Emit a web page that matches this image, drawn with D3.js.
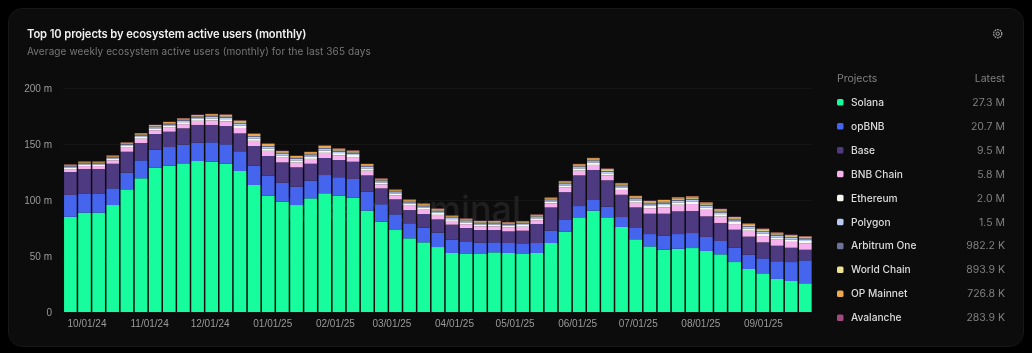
<!DOCTYPE html>
<html>
<head>
<meta charset="utf-8">
<script src="https://cdn.jsdelivr.net/npm/d3@7"></script>
<style>
    html, body { margin: 0; padding: 0; background: #000; }
    svg { display: block; font-family: Inter, "Noto Sans", sans-serif; filter: blur(0.3px); }
    .tick_label { font-size: 10px; fill: #9a9a9a; }
    .legend_name { font-size: 10.2px; fill: #dcdcdc; font-weight: 500; }
    .legend_value { font-size: 10.5px; fill: #808080; text-anchor: end; }
</style>
</head>
<body>
<svg id="chart" width="1032" height="353"></svg>
<script>
const projects = ["Solana", "opBNB", "Base", "BNB Chain", "Ethereum", "Polygon", "Arbitrum One", "World Chain", "OP Mainnet", "Avalanche"];
const latest = ["27.3 M", "20.7 M", "9.5 M", "5.8 M", "2.0 M", "1.5 M", "982.2 K", "893.9 K", "726.8 K", "283.9 K"];
const colors = ["#17fd9e", "#4565ee", "#4d3a80", "#f6b2ee", "#f8f6f0", "#b9c9f6", "#6c7298", "#ece28f", "#eea84f", "#a04a80"];

const monthTicks = ["2024-10-01", "2024-11-01", "2024-12-01", "2025-01-01", "2025-02-01", "2025-03-01", "2025-04-01", "2025-05-01", "2025-06-01", "2025-07-01", "2025-08-01", "2025-09-01"];
const yTicks = [0, 50, 100, 150, 200];

// values in millions, one per week
const solana = [85, 88.7, 88.7, 95.5, 109.5, 119.4, 128.9, 130.6, 132.7, 134.8, 134.2, 132.4, 125.9, 113.4, 103.8, 98.5, 95.5, 101.5, 106, 103.8, 102, 90.5, 80.6, 73.2, 65.8, 62.2, 58, 52.7, 51.8, 51.8, 53.3, 52.7, 51.8, 52.7, 61.6, 71.7, 84.5, 90.5, 84.5, 75.9, 64.9, 58.6, 55.6, 56.5, 57.1, 54.5, 51.5, 44.6, 38.4, 34.5, 29.5, 27.7, 25.6];
const opbnb = [19.5, 16.7, 16.7, 14.9, 14.9, 16, 16.1, 16.7, 16.7, 16.4, 17.3, 17.3, 17.6, 17.2, 17.9, 16.9, 16.4, 15.7, 16.3, 16.5, 16.8, 16.9, 15.6, 14, 13.4, 13.1, 12.8, 11.9, 10.7, 10.1, 8.9, 8.9, 9.5, 8.9, 11, 11, 10.1, 10.1, 9.5, 8.9, 10.1, 11, 12.5, 13.1, 13.4, 12.5, 11.9, 12.8, 12.8, 13.4, 15.8, 16.9, 20.5];
const base = [20.5, 22.3, 22.3, 22, 18.7, 15.5, 13.9, 13.7, 14.6, 15.8, 15.5, 16.3, 16, 17.6, 17.6, 18.2, 17.3, 15.2, 15.2, 15.4, 15.4, 14.6, 14.2, 13.4, 11.8, 12.2, 11.9, 13.4, 12.5, 11.3, 11, 10.4, 11.3, 17, 20.8, 24.3, 27.4, 26.2, 23.6, 19.9, 18.4, 18.2, 19.7, 20.3, 19.7, 18.4, 16.1, 16.1, 16.1, 14.3, 13.9, 12.8, 9.5];
const bnbChain = [2.6, 2.6, 2.6, 3, 3.6, 3.8, 3.4, 3.6, 3.7, 3.7, 4, 4.2, 4.8, 4.6, 4.6, 4.2, 4.2, 4.3, 4.6, 4.2, 4.1, 4.2, 3.6, 3.6, 3.9, 3.8, 4, 3.3, 3.4, 3.3, 3.3, 3.4, 3.5, 3.4, 3.6, 4.1, 4.2, 4.5, 4.3, 4.3, 4.2, 4.9, 5.6, 5.8, 6.2, 5.8, 5.7, 5, 5.2, 5.6, 5.4, 5.2, 5.8];
const ethereum = [1.4, 1.4, 1.4, 1.5, 1.6, 1.7, 1.6, 1.7, 1.8, 1.8, 1.9, 2, 2.2, 2.1, 2.1, 2, 2, 2, 2.1, 2, 1.9, 2, 1.7, 1.7, 1.8, 1.8, 1.9, 1.6, 1.6, 1.6, 1.6, 1.6, 1.7, 1.6, 1.7, 1.9, 2, 2.1, 2, 2, 2, 2.1, 2.1, 2.2, 2.3, 2.2, 2.2, 2, 2.1, 2.1, 2, 2, 2];
const polygon = [0.9, 0.9, 0.9, 1, 1, 1.1, 1.1, 1.1, 1.2, 1.2, 1.3, 1.3, 1.4, 1.4, 1.4, 1.3, 1.3, 1.3, 1.4, 1.3, 1.3, 1.3, 1.1, 1.1, 1.2, 1.2, 1.2, 1, 1.1, 1, 1, 1, 1.1, 1.1, 1.1, 1.2, 1.2, 1.3, 1.3, 1.3, 1.2, 1.4, 1.4, 1.4, 1.5, 1.5, 1.5, 1.4, 1.4, 1.5, 1.5, 1.5, 1.5];
const arbitrum = [0.6, 0.6, 0.6, 0.6, 0.7, 0.7, 0.7, 0.8, 0.8, 0.8, 0.9, 0.9, 1, 1, 1, 0.9, 0.9, 0.9, 1, 0.9, 0.9, 0.9, 0.8, 0.8, 0.8, 0.8, 0.8, 0.7, 0.7, 0.7, 0.7, 0.7, 0.7, 0.7, 0.7, 0.8, 0.8, 0.8, 0.8, 0.8, 0.8, 0.9, 0.9, 0.9, 0.9, 0.9, 0.9, 0.9, 0.9, 1, 1, 1, 1];
const worldChain = [0.2, 0.2, 0.2, 0.2, 0.2, 0.3, 0.3, 0.3, 0.3, 0.3, 0.4, 0.5, 0.7, 0.7, 0.7, 0.6, 0.6, 0.7, 0.7, 0.7, 0.6, 0.6, 0.6, 0.5, 0.6, 0.6, 0.6, 0.5, 0.6, 0.5, 0.5, 0.5, 0.5, 0.5, 0.6, 0.7, 0.7, 0.8, 0.8, 0.8, 0.8, 0.9, 1, 1, 1, 1, 1, 0.9, 0.9, 0.9, 0.9, 0.9, 0.9];
const opMainnet = [0.9, 0.9, 0.9, 1, 1.1, 1.1, 1, 1.1, 1.1, 1.1, 1.2, 1.3, 1.3, 1.2, 1.2, 1.1, 1.1, 1.2, 1.2, 1.1, 1.1, 1.1, 0.9, 0.9, 1, 1, 1, 0.9, 0.9, 0.9, 0.9, 0.9, 0.9, 1, 1, 1.1, 1.1, 1.1, 1.1, 1.1, 1.1, 1.1, 1.2, 1.2, 1.2, 1.1, 1.1, 1.1, 1.1, 1, 0.9, 0.8, 0.7];
const avalanche = [0.2, 0.2, 0.2, 0.2, 0.2, 0.2, 0.2, 0.3, 0.3, 0.3, 0.3, 0.3, 0.3, 0.3, 0.3, 0.3, 0.3, 0.3, 0.3, 0.3, 0.3, 0.3, 0.3, 0.3, 0.3, 0.3, 0.3, 0.3, 0.3, 0.3, 0.3, 0.3, 0.3, 0.3, 0.3, 0.3, 0.3, 0.3, 0.3, 0.3, 0.3, 0.3, 0.3, 0.3, 0.3, 0.3, 0.3, 0.3, 0.3, 0.3, 0.3, 0.3, 0.3];

const series_values = [solana, opbnb, base, bnbChain, ethereum, polygon, arbitrum, worldChain, opMainnet, avalanche];

const svg = d3.select("svg#chart");

// card
svg.append("rect")
    .attr("x", 8.5).attr("y", 8.5)
    .attr("width", 1015).attr("height", 338)
    .attr("rx", 14)
    .attr("fill", "#0c0c0c")
    .attr("stroke", "#181818");

svg.append("text")
    .attr("x", 27).attr("y", 38)
    .attr("fill", "#f0f0f0")
    .attr("font-size", 11.2)
    .attr("font-weight", 600)
    .attr("letter-spacing", -0.1)
    .text("Top 10 projects by ecosystem active users (monthly)");

svg.append("text")
    .attr("x", 27).attr("y", 55)
    .attr("fill", "#777")
    .attr("font-size", 10)
    .attr("letter-spacing", 0.1)
    .text("Average weekly ecosystem active users (monthly) for the last 365 days");

// gear icon
var gear = svg.append("g").attr("transform", "translate(997.7,33.7)").attr("fill", "none").attr("stroke", "#a8a8a8");
gear.append("circle").attr("r", 4.1).attr("stroke-width", 1.2).attr("stroke-dasharray", "1.8 0.8");
gear.append("circle").attr("r", 1.7).attr("stroke-width", 1);

// weeks run from monday to monday
const weeks = d3.utcMonday.range(new Date(Date.UTC(2024, 8, 23)), new Date(Date.UTC(2025, 8, 23)));
const halfWeek = 3.5 * 24 * 3600 * 1000;

const xscale = d3.scaleUtc()
    .domain([+weeks[0] - halfWeek, +weeks[weeks.length - 1] + halfWeek])
    .range([63.3, 812.4]);

const hscale = d3.scaleLinear()
    .domain([0, 200])
    .range([312, 88]);

const bar_width = (xscale.range()[1] - xscale.range()[0]) / weeks.length - 1.5;

// y axis with faint grid lines
var yaxis = d3.axisLeft(hscale)
    .tickValues(yTicks)
    .tickFormat(d => d == 0 ? "0" : d + " m")
    .tickSize(-749)
    .tickPadding(11);

var yaxis_g = svg.append("g")
    .attr("transform", "translate(63,0)")
    .call(yaxis);
yaxis_g.select(".domain").remove();
yaxis_g.selectAll("line").attr("stroke", "#151515");
yaxis_g.selectAll("text").attr("class", "tick_label").attr("font-family", null).attr("font-size", null);

// watermark sits behind the bars
svg.append("text")
    .attr("x", 538).attr("y", 222)
    .attr("text-anchor", "end")
    .attr("fill", "#202020")
    .attr("font-size", 36)
    .attr("font-weight", 500)
    .text("tokenterminal_");

// stacked bars
var table = weeks.map((week, i) => {
    var row = { week: week };
    projects.forEach((p, j) => row[p] = series_values[j][i]);
    return row;
});
var stacked = d3.stack().keys(projects)(table);

var bars = svg.append("g").attr("class", "bars");
stacked.forEach((layer, j) => {
    bars.append("g")
        .attr("fill", colors[j])
        .selectAll("rect")
        .data(layer)
        .join("rect")
        .attr("x", d => xscale(d.data.week) - bar_width / 2)
        .attr("width", bar_width)
        .attr("y", d => hscale(d[1]))
        .attr("height", d => hscale(d[0]) - hscale(d[1]));
});

// x axis
var xaxis = d3.axisBottom(xscale)
    .tickValues(monthTicks.map(d => new Date(d + "T00:00:00Z")))
    .tickFormat(d3.utcFormat("%m/%d/%y"))
    .tickSize(0)
    .tickPadding(7);

var xaxis_g = svg.append("g")
    .attr("transform", "translate(0,313)")
    .call(xaxis);
xaxis_g.select(".domain").remove();
xaxis_g.selectAll("text").attr("class", "tick_label").attr("font-family", null).attr("font-size", null);

// legend
const legend_y = d3.scalePoint().domain(projects).range([102, 317.5]);

svg.append("text").attr("class", "legend_value").attr("x", 837).attr("y", 81.5)
    .attr("style", "text-anchor:start").text("Projects");
svg.append("text").attr("class", "legend_value").attr("x", 1005).attr("y", 81.5).text("Latest");

var legend = svg.append("g").selectAll("g")
    .data(projects)
    .join("g")
    .attr("transform", d => "translate(0," + legend_y(d) + ")");

legend.append("rect")
    .attr("x", 837).attr("y", -3)
    .attr("width", 6.5).attr("height", 6.5)
    .attr("rx", 1.5)
    .attr("fill", (d, i) => colors[i]);

legend.append("text")
    .attr("class", "legend_name")
    .attr("x", 851).attr("y", 3.8)
    .text(d => d);

legend.append("text")
    .attr("class", "legend_value")
    .attr("x", 1005).attr("y", 3.8)
    .text((d, i) => latest[i]);
</script>
</body>
</html>
